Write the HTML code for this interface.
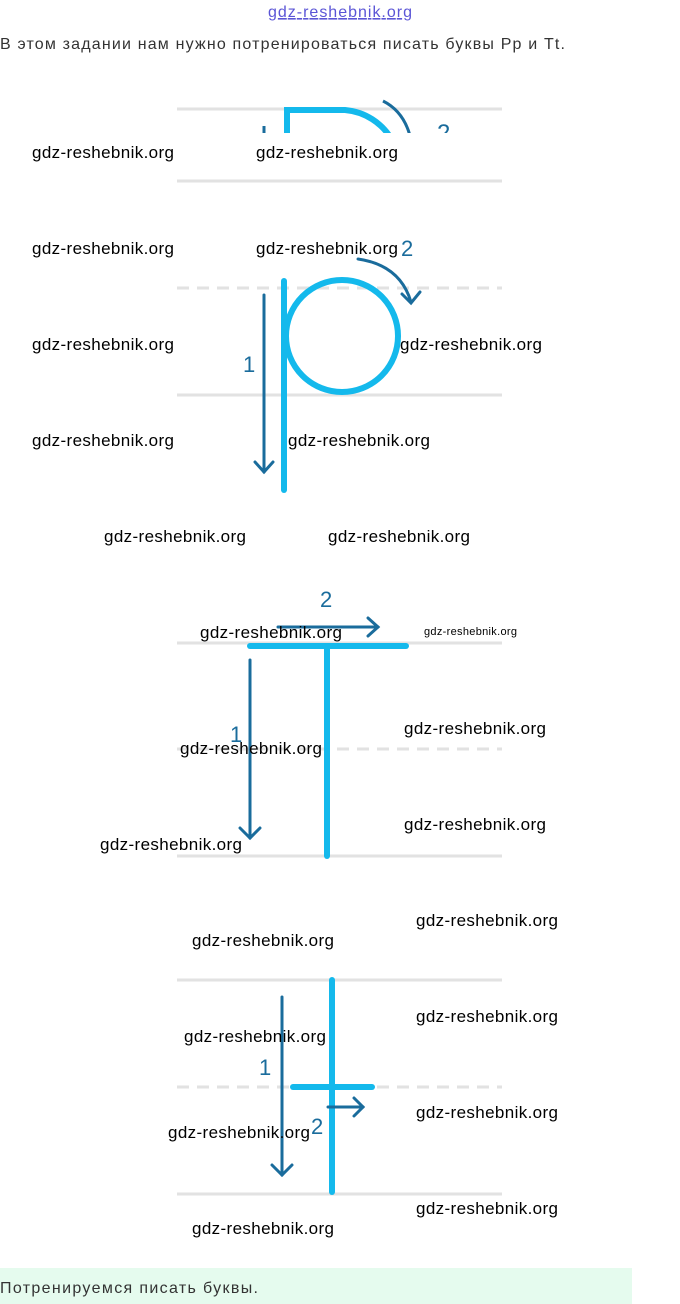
<!DOCTYPE html>
<html><head><meta charset="utf-8"><style>
html,body{margin:0;padding:0;background:#fff;width:680px;height:1304px;overflow:hidden}
svg{display:block}
</style></head><body>
<svg width="680" height="1304" viewBox="0 0 680 1304" xmlns="http://www.w3.org/2000/svg" font-family="Liberation Sans, sans-serif">
<defs><clipPath id="c1"><rect x="0" y="0" width="680" height="133"/></clipPath></defs>
<text x="340" y="17" text-anchor="middle" font-size="16" fill="#5b55d6" text-decoration="underline" textLength="144">gdz-reshebnik.org</text>
<text x="0" y="49" font-size="16" fill="#333" textLength="565">В этом задании нам нужно потренироваться писать буквы Рр и Тt.</text>
<g stroke="#e2e2e2" stroke-width="3" fill="none">
<line x1="177" y1="109" x2="502" y2="109"/><line x1="177" y1="181" x2="502" y2="181"/>
<line x1="177" y1="288" x2="502" y2="288" stroke-dasharray="12,8"/><line x1="177" y1="395" x2="502" y2="395"/>
<line x1="177" y1="643" x2="502" y2="643"/><line x1="177" y1="749" x2="502" y2="749" stroke-dasharray="12,8"/><line x1="177" y1="856" x2="502" y2="856"/>
<line x1="177" y1="980" x2="502" y2="980"/><line x1="177" y1="1087" x2="502" y2="1087" stroke-dasharray="12,8"/><line x1="177" y1="1194" x2="502" y2="1194"/>
</g>
<g clip-path="url(#c1)">
<path d="M287,140 V110 H345 A60 60 0 0 1 392,140" stroke="#14b9ec" stroke-width="6" fill="none"/>
<path d="M383,101 Q405,112 411,140" stroke="#1a6c9c" stroke-width="3" fill="none"/>
<line x1="264" y1="126" x2="264" y2="140" stroke="#1a6c9c" stroke-width="3"/>
<text x="437" y="141" font-size="24" fill="#1a6c9c">2</text>
</g>
<g stroke="#14b9ec" stroke-width="6" fill="none" stroke-linecap="round">
<line x1="284" y1="281" x2="284" y2="490"/>
<circle cx="342" cy="336" r="56"/>
<line x1="250" y1="646" x2="406" y2="646"/><line x1="327" y1="646" x2="327" y2="856"/>
<line x1="332" y1="980" x2="332" y2="1192"/><line x1="293" y1="1087" x2="372" y2="1087"/>
</g>
<g stroke="#1a6c9c" stroke-width="3" fill="none" stroke-linecap="round">
<line x1="264" y1="295" x2="264" y2="472"/><path d="M255,462 L264,472 L273,462"/>
<path d="M358,259 Q400,265 411,302"/><path d="M402,294 L411,303 L420,292"/>
<line x1="250" y1="660" x2="250" y2="838"/><path d="M240,828 L250,838 L260,828"/>
<line x1="278" y1="627" x2="378" y2="627"/><path d="M368,618 L378,627 L368,636"/>
<line x1="282" y1="997" x2="282" y2="1175"/><path d="M272,1165 L282,1175 L292,1165"/>
<line x1="328" y1="1107" x2="363" y2="1107"/><path d="M354,1098 L363,1107 L354,1116"/>
</g>
<g font-size="22" fill="#1a6c9c">
<text x="401" y="256">2</text>
<text x="243" y="372">1</text>
<text x="320" y="607">2</text>
<text x="230" y="742">1</text>
<text x="259" y="1075">1</text>
<text x="311" y="1134">2</text>
</g>
<g font-size="17" fill="#000">
<text x="32" y="158" textLength="142">gdz-reshebnik.org</text>
<text x="256" y="158" textLength="142">gdz-reshebnik.org</text>
<text x="32" y="254" textLength="142">gdz-reshebnik.org</text>
<text x="256" y="254" textLength="142">gdz-reshebnik.org</text>
<text x="32" y="350" textLength="142">gdz-reshebnik.org</text>
<text x="400" y="350" textLength="142">gdz-reshebnik.org</text>
<text x="32" y="446" textLength="142">gdz-reshebnik.org</text>
<text x="288" y="446" textLength="142">gdz-reshebnik.org</text>
<text x="104" y="542" textLength="142">gdz-reshebnik.org</text>
<text x="328" y="542" textLength="142">gdz-reshebnik.org</text>
<text x="200" y="638" textLength="142">gdz-reshebnik.org</text>
<text x="424" y="635" font-size="11" textLength="93">gdz-reshebnik.org</text>
<text x="404" y="734" textLength="142">gdz-reshebnik.org</text>
<text x="180" y="754" textLength="142">gdz-reshebnik.org</text>
<text x="100" y="850" textLength="142">gdz-reshebnik.org</text>
<text x="404" y="830" textLength="142">gdz-reshebnik.org</text>
<text x="416" y="926" textLength="142">gdz-reshebnik.org</text>
<text x="192" y="946" textLength="142">gdz-reshebnik.org</text>
<text x="416" y="1022" textLength="142">gdz-reshebnik.org</text>
<text x="184" y="1042" textLength="142">gdz-reshebnik.org</text>
<text x="416" y="1118" textLength="142">gdz-reshebnik.org</text>
<text x="168" y="1138" textLength="142">gdz-reshebnik.org</text>
<text x="416" y="1214" textLength="142">gdz-reshebnik.org</text>
<text x="192" y="1234" textLength="142">gdz-reshebnik.org</text>
</g>
<rect x="0" y="1268" width="632" height="36" fill="#e5fbee"/>
<text x="0" y="1293" font-size="16" fill="#333" textLength="258">Потренируемся писать буквы.</text>
</svg>
</body></html>
